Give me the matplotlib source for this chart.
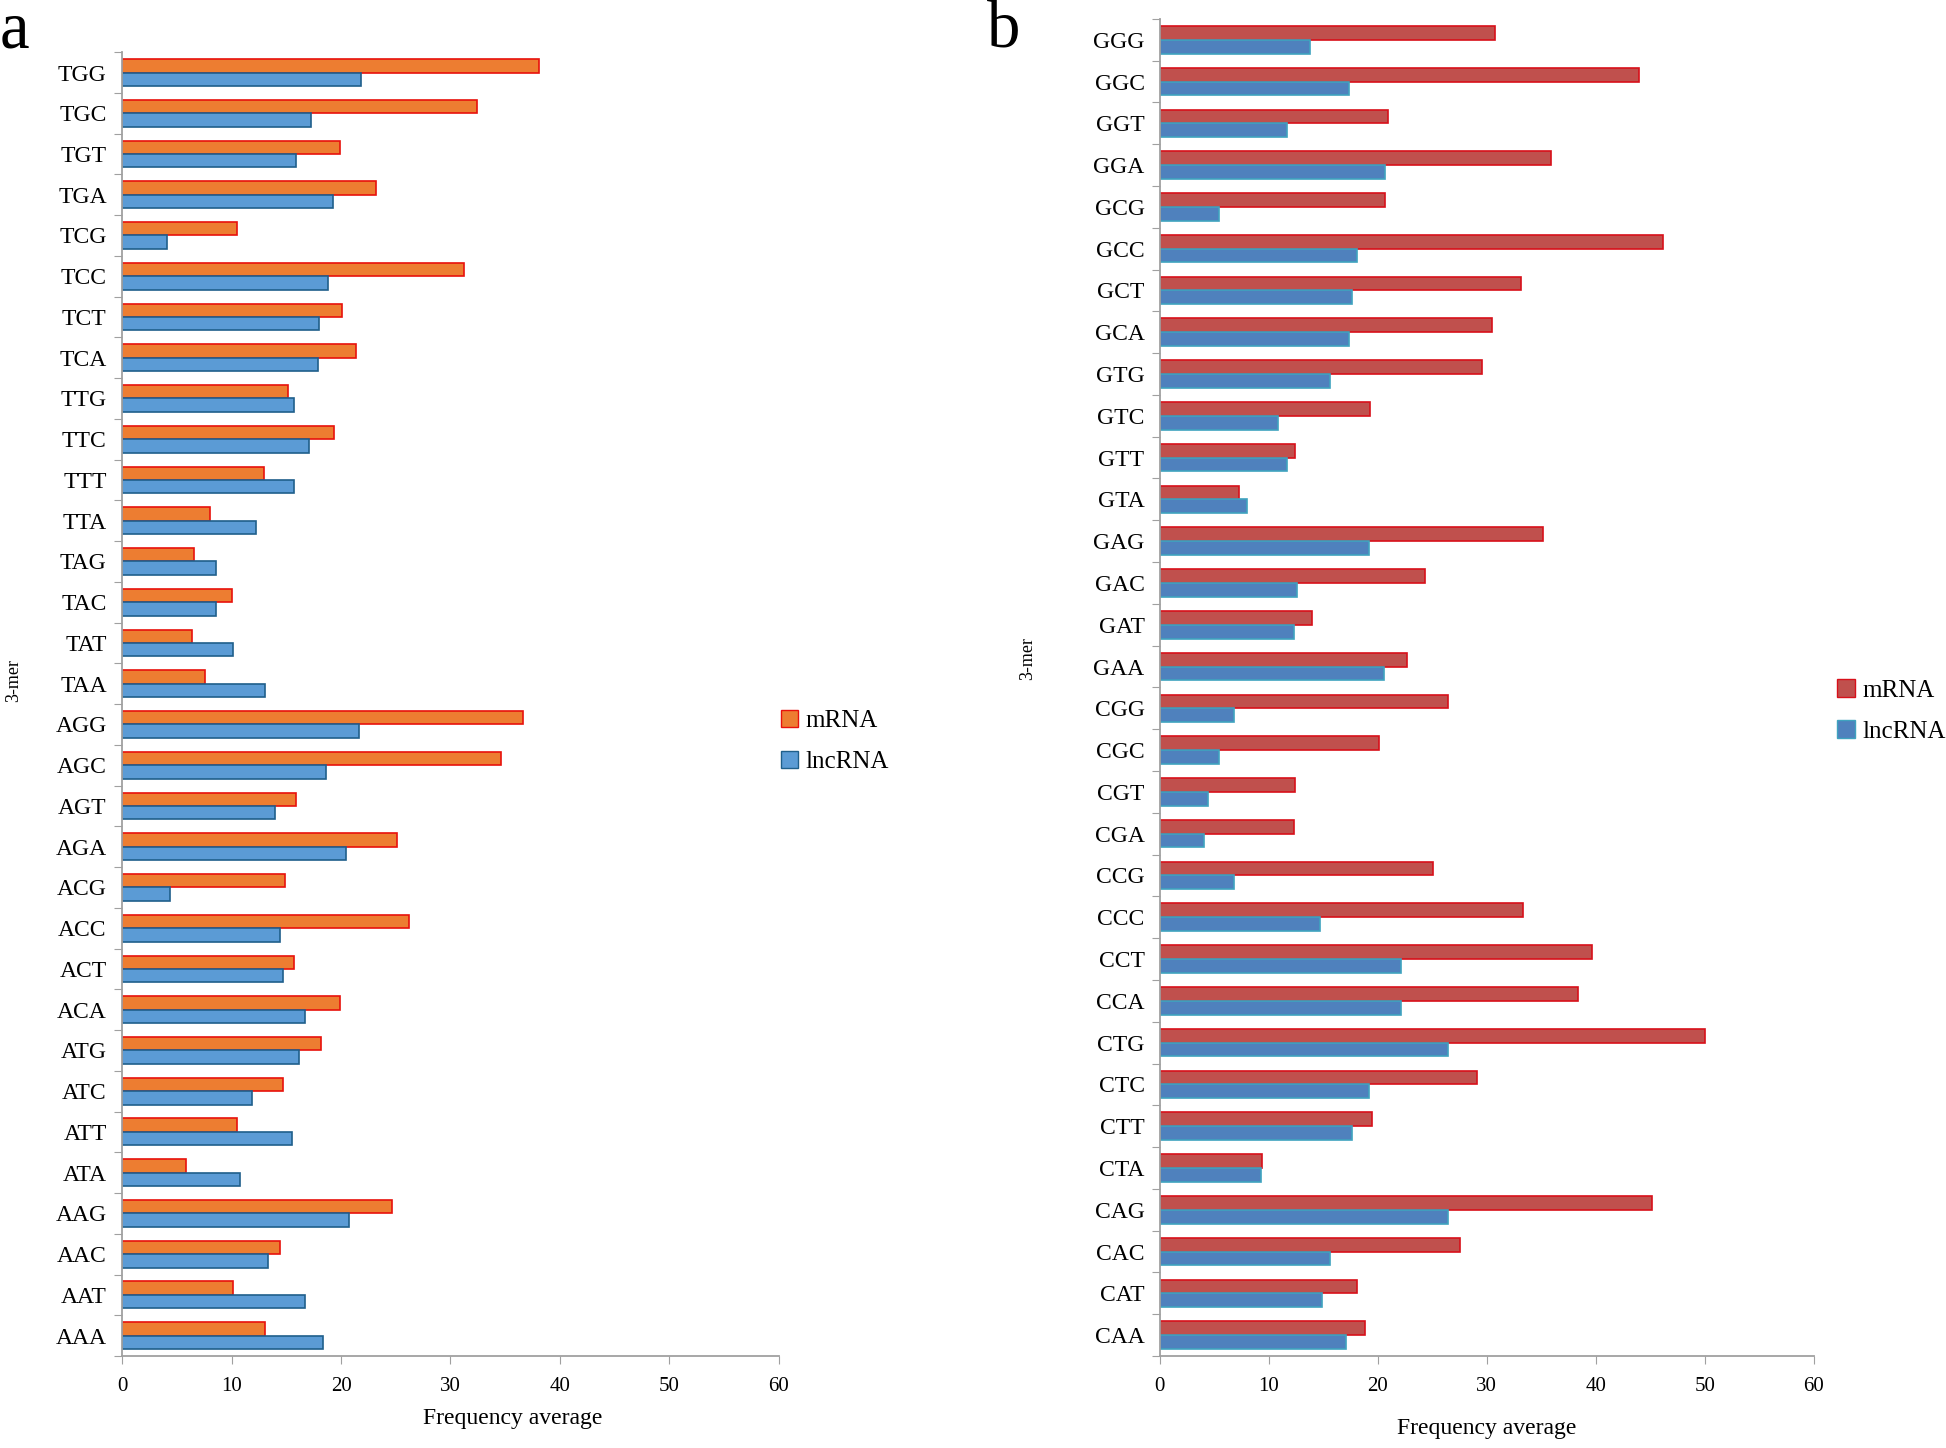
import matplotlib
matplotlib.use("Agg")
import matplotlib.pyplot as plt
import numpy as np
from matplotlib.patches import Patch

plt.rcParams['font.family'] = ['Liberation Serif', 'DejaVu Serif']

# panel a: 3-mers starting with A / T (bottom to top)
kmers_a = ['AAA', 'AAT', 'AAC', 'AAG', 'ATA', 'ATT', 'ATC', 'ATG',
           'ACA', 'ACT', 'ACC', 'ACG', 'AGA', 'AGT', 'AGC', 'AGG',
           'TAA', 'TAT', 'TAC', 'TAG', 'TTA', 'TTT', 'TTC', 'TTG',
           'TCA', 'TCT', 'TCC', 'TCG', 'TGA', 'TGT', 'TGC', 'TGG']
mrna_a = [13.1, 10.1, 14.4, 24.7, 5.8, 10.5, 14.7, 18.2,
          19.9, 15.7, 26.2, 14.9, 25.1, 15.9, 34.6, 36.6,
          7.6, 6.4, 10.0, 6.6, 8.0, 13.0, 19.4, 15.2,
          21.4, 20.1, 31.2, 10.5, 23.2, 19.9, 32.4, 38.1]
lnc_a = [18.4, 16.7, 13.3, 20.7, 10.8, 15.5, 11.9, 16.2,
         16.7, 14.7, 14.4, 4.4, 20.5, 14.0, 18.6, 21.6,
         13.1, 10.1, 8.6, 8.6, 12.2, 15.7, 17.1, 15.7,
         17.9, 18.0, 18.8, 4.1, 19.3, 15.9, 17.3, 21.8]

# panel b: 3-mers starting with C / G (bottom to top)
kmers_b = ['CAA', 'CAT', 'CAC', 'CAG', 'CTA', 'CTT', 'CTC', 'CTG',
           'CCA', 'CCT', 'CCC', 'CCG', 'CGA', 'CGT', 'CGC', 'CGG',
           'GAA', 'GAT', 'GAC', 'GAG', 'GTA', 'GTT', 'GTC', 'GTG',
           'GCA', 'GCT', 'GCC', 'GCG', 'GGA', 'GGT', 'GGC', 'GGG']
mrna_b = [18.8, 18.1, 27.5, 45.2, 9.4, 19.5, 29.1, 50.0,
          38.4, 39.7, 33.3, 25.1, 12.3, 12.4, 20.1, 26.4,
          22.7, 14.0, 24.3, 35.2, 7.3, 12.4, 19.3, 29.6,
          30.5, 33.1, 46.2, 20.7, 35.9, 20.9, 44.0, 30.8]
lnc_b = [17.1, 14.9, 15.6, 26.4, 9.3, 17.6, 19.2, 26.4,
         22.1, 22.1, 14.7, 6.8, 4.1, 4.4, 5.4, 6.8,
         20.6, 12.3, 12.6, 19.2, 8.0, 11.7, 10.8, 15.6,
         17.4, 17.6, 18.1, 5.4, 20.7, 11.7, 17.4, 13.8]

fig = plt.figure(figsize=(19.46, 14.48), dpi=100)


def draw_panel(rect, kmers, mrna, lnc, colors, label_pos, legend_pos, ylab_pos, xlab_pos):
    ax = fig.add_axes(rect)
    y = np.arange(len(kmers))
    h = 0.33
    ax.barh(y + h / 2, mrna, height=h, color=colors[0], edgecolor=colors[1],
            linewidth=1.2, label='mRNA')
    ax.barh(y - h / 2, lnc, height=h, color=colors[2], edgecolor=colors[3],
            linewidth=1.2, label='lncRNA')
    ax.set_xlim(0, 60)
    ax.set_ylim(-0.5, len(kmers) - 0.5)
    ax.set_xticks(range(0, 61, 10))
    ax.set_yticks(np.arange(-0.5, len(kmers), 1.0))
    ax.set_yticklabels([])
    ax.set_yticks(y, minor=True)
    ax.set_yticklabels(kmers, minor=True, fontsize=17)
    ax.tick_params(axis='y', which='major', length=6, color='#a0a0a0', direction='out')
    ax.tick_params(axis='y', which='minor', length=0, pad=11)
    ax.tick_params(axis='x', length=6, color='#a0a0a0', labelsize=15, pad=9)
    for s in ['top', 'right']:
        ax.spines[s].set_visible(False)
    for s in ['left', 'bottom']:
        ax.spines[s].set_color('#a0a0a0')
        ax.spines[s].set_linewidth(1.3)
    ax.set_xlabel('Frequency average', fontsize=17)
    ax.xaxis.set_label_coords(xlab_pos[0], xlab_pos[1])
    fig.text(ylab_pos[0], ylab_pos[1], '3-mer', rotation=90, fontsize=13,
             ha='center', va='center')
    fig.text(label_pos[0], label_pos[1], label_pos[2], fontsize=48,
             ha='left', va='top')
    handles = [Patch(facecolor=colors[0], edgecolor=colors[1], label='mRNA'),
               Patch(facecolor=colors[2], edgecolor=colors[3], label='lncRNA')]
    fig.legend(handles=handles, loc='center left', bbox_to_anchor=legend_pos,
               frameon=False, fontsize=18, handlelength=0.7, handleheight=0.7,
               handletextpad=0.3, labelspacing=0.75, borderaxespad=0)
    return ax


draw_panel([0.0627, 0.0635, 0.3376, 0.9005], kmers_a, mrna_a, lnc_a,
           ['#ED7D31', '#E8120C', '#5B9BD5', '#1F5F8B'],
           (0.0, 1.0, 'a'), (0.396, 0.488), (0.007, 0.53), (0.594, -0.04))
draw_panel([0.596, 0.0635, 0.336, 0.9235], kmers_b, mrna_b, lnc_b,
           ['#C0504D', '#D8101A', '#4F81BD', '#3FA3BF'],
           (0.507, 1.0, 'b'), (0.939, 0.509), (0.528, 0.545), (0.5, -0.046))

fig.savefig('out.png', dpi=100)
